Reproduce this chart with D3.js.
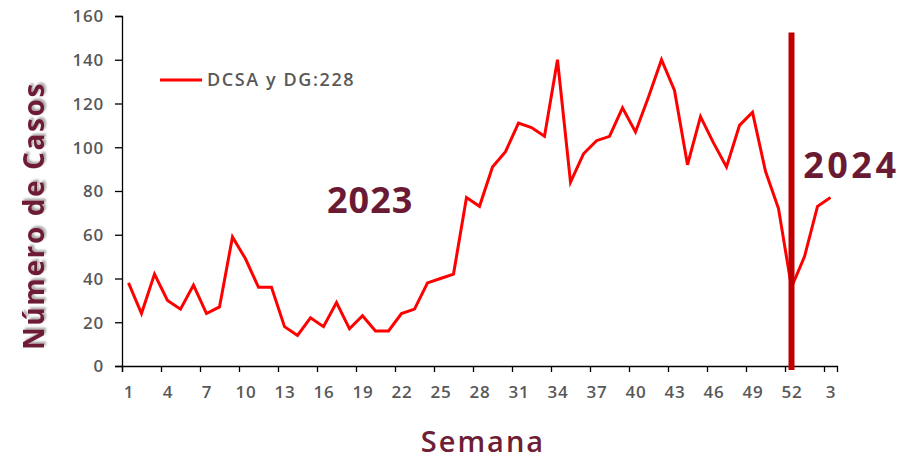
<!DOCTYPE html>
<html>
<head>
<meta charset="utf-8">
<script src="https://cdn.jsdelivr.net/npm/d3@7"></script>
<style>
  body { margin: 0; background: #fff; }
  svg text { font-family: "Open Sans", "DejaVu Sans", sans-serif; }
  .tick text { fill: #595959; font-size: 17px; font-weight: 600; letter-spacing: 0.8px; }
  .domain, .tick line { stroke: #000; stroke-width: 1.3px; }
</style>
</head>
<body>
<div id="chart"></div>
<script>
// weekly cases, epi weeks 1-52 of 2023 then 1-3 of 2024
const weekLabels = [1,2,3,4,5,6,7,8,9,10,11,12,13,14,15,16,17,18,19,20,21,22,23,24,25,26,
  27,28,29,30,31,32,33,34,35,36,37,38,39,40,41,42,43,44,45,46,47,48,49,50,51,52,1,2,3];
const casos = [38,24,42,30,26,37,24,27,59,49,36,36,18,14,22,18,29,17,23,16,16,24,26,38,40,42,
  77,73,91,98,111,109,105,140,84,97,103,105,118,107,123,140,126,92,114,102,91,110,116,89,72,36,
  50,73,77];
const yTicks = [0,20,40,60,80,100,120,140,160];
const serieName = "DCSA y DG:228";
const yearMarks = ["2023", "2024"];

const width = 915, height = 459;
const margin = {left: 122, right: 78, top: 16, bottom: 93};

var svg = d3.select("#chart").append("svg")
  .attr("width", width)
  .attr("height", height);

var defs = svg.append("defs");
var shadow = defs.append("filter").attr("id", "shadow")
  .attr("x", "-20%").attr("y", "-20%").attr("width", "140%").attr("height", "140%");
shadow.append("feDropShadow")
  .attr("dx", 2).attr("dy", 2).attr("stdDeviation", 1.2)
  .attr("flood-color", "#000").attr("flood-opacity", 0.35);

var x = d3.scaleLinear()
  .domain([0, casos.length])
  .range([margin.left, width - margin.right]);

var y = d3.scaleLinear()
  .domain([0, 160])
  .range([height - margin.bottom, margin.top]);

// y axis
svg.append("g")
  .attr("transform", "translate(" + margin.left + ",0)")
  .call(d3.axisLeft(y).tickValues(yTicks).tickSize(7).tickPadding(11))
  .selectAll(".tick text").attr("dy", "0.35em");

// x axis: ticks on week boundaries every 3, labels at week centres
var boundaryTicks = d3.range(0, casos.length, 3);
svg.append("g")
  .attr("transform", "translate(0," + y(0) + ")")
  .call(d3.axisBottom(x).tickValues(boundaryTicks).tickSize(6).tickFormat(""));

svg.append("g")
  .attr("transform", "translate(0," + y(0) + ")")
  .call(d3.axisBottom(x)
    .tickValues(boundaryTicks.map(function(d) { return d + 0.5 }))
    .tickSize(0).tickPadding(20)
    .tickFormat(function(d) { return weekLabels[Math.floor(d)] }))
  .select(".domain").remove();

// series line
var line = d3.line()
  .x(function(d, i) { return x(i + 0.5) })
  .y(function(d) { return y(d) });

svg.append("path")
  .datum(casos)
  .attr("fill", "none")
  .attr("stroke", "#FF0000")
  .attr("stroke-width", 3)
  .attr("stroke-linejoin", "miter")
  .attr("d", line);

// separator at week 52
var sepIndex = 51;
svg.append("line")
  .attr("x1", x(sepIndex + 0.5)).attr("x2", x(sepIndex + 0.5))
  .attr("y1", y(152.5)).attr("y2", y(0) + 4)
  .attr("stroke", "#C00000")
  .attr("stroke-width", 6);

// year labels
svg.append("text")
  .text(yearMarks[0])
  .attr("x", 327).attr("y", 213)
  .attr("fill", "#6B1A33")
  .style("font-size", "36px").style("font-weight", 700)
  .style("letter-spacing", "1px");

svg.append("text")
  .text(yearMarks[1])
  .attr("x", x(52.4)).attr("y", 178)
  .attr("fill", "#6B1A33")
  .style("font-size", "36px").style("font-weight", 700)
  .style("letter-spacing", "3.5px");

// legend
svg.append("line")
  .attr("x1", 160).attr("x2", 202)
  .attr("y1", 80).attr("y2", 80)
  .attr("stroke", "#FF0000").attr("stroke-width", 3);

svg.append("text")
  .text(serieName)
  .attr("x", 207).attr("y", 86)
  .attr("fill", "#595959")
  .style("font-size", "18px").style("font-weight", 600)
  .style("letter-spacing", "1.6px");

// axis titles
svg.append("text")
  .text("Número de Casos")
  .attr("transform", "translate(44,216) rotate(-90)")
  .attr("text-anchor", "middle")
  .attr("fill", "#6E1E35")
  .attr("filter", "url(#shadow)")
  .style("font-size", "28px").style("font-weight", 700)
  .style("letter-spacing", "1.6px");

svg.append("text")
  .text("Semana")
  .attr("x", 483).attr("y", 452)
  .attr("text-anchor", "middle")
  .attr("fill", "#6E1E35")
  .style("font-size", "29px").style("font-weight", 600)
  .style("letter-spacing", "2px");
</script>
</body>
</html>
